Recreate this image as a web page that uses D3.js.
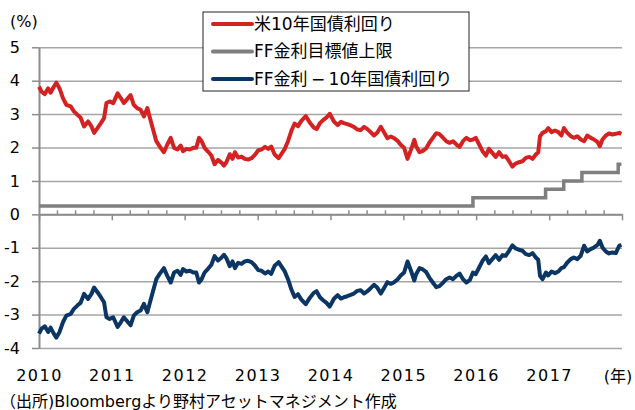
<!DOCTYPE html>
<html>
<head>
<meta charset="utf-8">
<script src="https://cdn.jsdelivr.net/npm/d3@7"></script>
<style>
  body { margin: 0; background: #fff; }
  svg text { font-family: "DejaVu Sans", "Noto Sans CJK JP", sans-serif; fill: #000; }
</style>
</head>
<body>
<div id="chart"></div>
<script>
// observation dates (roughly twice a month)
const dates = [
  "2010-01-01","2010-01-14","2010-01-30","2010-02-16","2010-02-28","2010-03-16","2010-03-29","2010-04-14","2010-05-01","2010-05-18","2010-06-09","2010-06-25",
  "2010-07-12","2010-07-28","2010-08-15","2010-09-04","2010-09-21","2010-10-04","2010-10-21","2010-11-07","2010-11-23","2010-12-05","2010-12-21",
  "2011-01-08","2011-01-30","2011-02-15","2011-03-02","2011-03-19","2011-04-05","2011-04-21","2011-05-08","2011-05-25","2011-06-11","2011-06-28",
  "2011-07-09","2011-07-25","2011-08-12","2011-08-28","2011-09-19","2011-10-06","2011-10-23","2011-11-09","2011-11-26","2011-12-12","2011-12-24",
  "2012-01-10","2012-01-27","2012-02-13","2012-02-28","2012-03-13","2012-03-26","2012-04-10","2012-04-27","2012-05-14","2012-05-30","2012-06-16",
  "2012-07-03","2012-07-16","2012-07-28","2012-08-14","2012-08-28","2012-09-09","2012-09-25","2012-10-12","2012-10-28","2012-11-14","2012-12-01","2012-12-18",
  "2013-01-04","2013-01-21","2013-02-07","2013-02-23","2013-03-10","2013-03-27","2013-04-16","2013-04-29","2013-05-16","2013-06-02","2013-06-19",
  "2013-07-05","2013-07-22","2013-08-08","2013-08-30","2013-09-19","2013-10-09","2013-10-23","2013-11-09","2013-11-25","2013-12-12","2013-12-28",
  "2014-01-19","2014-02-06","2014-02-22","2014-03-09","2014-03-26","2014-04-12","2014-04-28","2014-05-15","2014-06-01","2014-06-18",
  "2014-07-05","2014-07-21","2014-08-07","2014-08-24","2014-09-10","2014-09-27","2014-10-13","2014-10-30","2014-11-16","2014-12-03","2014-12-19",
  "2015-01-05","2015-01-22","2015-02-08","2015-02-25","2015-03-06","2015-03-23","2015-04-09","2015-04-26","2015-05-12","2015-05-29","2015-06-15",
  "2015-07-01","2015-07-18","2015-08-04","2015-08-21","2015-09-07","2015-09-24","2015-10-10","2015-10-27","2015-11-13","2015-11-30","2015-12-16","2015-12-30",
  "2016-01-16","2016-02-02","2016-02-19","2016-03-05","2016-03-22","2016-04-08","2016-04-25","2016-05-12","2016-05-28","2016-06-14",
  "2016-07-01","2016-07-17","2016-08-03","2016-08-20","2016-09-06","2016-09-23","2016-10-10","2016-10-26","2016-11-07","2016-11-16","2016-11-29","2016-12-16","2016-12-27",
  "2017-01-13","2017-01-30","2017-02-16","2017-03-03","2017-03-16","2017-04-02","2017-04-19","2017-05-05","2017-05-22","2017-06-08","2017-06-25",
  "2017-07-11","2017-07-28","2017-08-14","2017-09-01","2017-09-12","2017-09-25","2017-10-12","2017-10-28","2017-11-14","2017-12-01","2017-12-18","2017-12-29"
];

// 米10年国債利回り (%)
const us10y = [
  3.82,3.67,3.60,3.77,3.64,3.82,3.94,3.77,3.48,3.28,3.23,3.08,
  2.98,2.90,2.63,2.78,2.63,2.44,2.58,2.73,2.88,3.33,3.38,
  3.33,3.62,3.48,3.33,3.45,3.57,3.28,3.18,3.13,2.93,3.18,
  2.93,2.58,2.19,2.04,1.86,2.09,2.29,1.99,1.94,2.06,1.89,
  1.96,1.94,1.99,1.99,2.29,2.19,1.99,1.88,1.76,1.50,1.63,
  1.55,1.46,1.56,1.80,1.66,1.86,1.70,1.73,1.66,1.64,1.68,1.78,
  1.92,1.94,2.02,1.96,2.03,1.79,1.68,1.80,1.95,2.19,2.50,
  2.72,2.64,2.80,2.94,2.75,2.60,2.55,2.73,2.82,2.90,3.01,
  2.77,2.67,2.77,2.73,2.70,2.66,2.62,2.54,2.52,2.62,
  2.55,2.46,2.36,2.45,2.62,2.45,2.28,2.33,2.28,2.20,2.08,
  1.99,1.66,1.93,2.23,2.04,1.86,1.90,1.98,2.15,2.29,2.43,
  2.40,2.30,2.19,2.14,2.19,2.09,2.02,2.19,2.29,2.22,2.24,2.29,
  2.09,1.89,1.76,1.96,1.84,1.72,1.86,1.72,1.74,1.59,
  1.43,1.52,1.56,1.59,1.69,1.72,1.66,1.79,1.86,2.34,2.44,2.49,2.58,
  2.46,2.51,2.46,2.36,2.58,2.44,2.34,2.29,2.34,2.24,2.19,
  2.36,2.29,2.24,2.16,2.04,2.24,2.36,2.42,2.39,2.41,2.44,2.41
];

// FF金利－10年国債利回り (%)
const spread = [
  -3.57,-3.42,-3.35,-3.52,-3.39,-3.57,-3.69,-3.52,-3.23,-3.03,-2.98,-2.83,
  -2.73,-2.65,-2.38,-2.53,-2.38,-2.19,-2.33,-2.48,-2.63,-3.08,-3.13,
  -3.08,-3.37,-3.23,-3.08,-3.20,-3.32,-3.03,-2.93,-2.88,-2.68,-2.93,
  -2.68,-2.33,-1.94,-1.79,-1.61,-1.84,-2.04,-1.74,-1.69,-1.81,-1.64,
  -1.71,-1.69,-1.74,-1.74,-2.04,-1.94,-1.74,-1.63,-1.51,-1.25,-1.38,
  -1.30,-1.21,-1.31,-1.55,-1.41,-1.61,-1.45,-1.48,-1.41,-1.39,-1.43,-1.53,
  -1.67,-1.69,-1.77,-1.71,-1.78,-1.54,-1.43,-1.55,-1.70,-1.94,-2.25,
  -2.47,-2.39,-2.55,-2.69,-2.50,-2.35,-2.30,-2.48,-2.57,-2.65,-2.76,
  -2.52,-2.42,-2.52,-2.48,-2.45,-2.41,-2.37,-2.29,-2.27,-2.37,
  -2.30,-2.21,-2.11,-2.20,-2.37,-2.20,-2.03,-2.08,-2.03,-1.95,-1.83,
  -1.74,-1.41,-1.68,-1.98,-1.79,-1.61,-1.65,-1.73,-1.90,-2.04,-2.18,
  -2.15,-2.05,-1.94,-1.89,-1.94,-1.84,-1.77,-1.94,-2.04,-1.97,-1.74,-1.79,
  -1.59,-1.39,-1.26,-1.46,-1.34,-1.22,-1.36,-1.22,-1.24,-1.09,
  -0.93,-1.02,-1.06,-1.09,-1.19,-1.22,-1.16,-1.29,-1.36,-1.84,-1.94,-1.74,-1.83,
  -1.71,-1.76,-1.71,-1.61,-1.58,-1.44,-1.34,-1.29,-1.34,-1.24,-0.94,
  -1.11,-1.04,-0.99,-0.91,-0.79,-0.99,-1.11,-1.17,-1.14,-1.16,-0.94,-0.91
];

// FF金利目標値上限 (%) - step changes
const ffDates = ["2010-01-01","2015-12-16","2016-12-14","2017-03-15","2017-06-14","2017-12-13","2017-12-29"];
const ffUpper = [0.25, 0.50, 0.75, 1.00, 1.25, 1.50, 1.50];

const yTicks = [-4, -3, -2, -1, 0, 1, 2, 3, 4, 5];
const yearLabels = ["2010","2011","2012","2013","2014","2015","2016","2017"];
const legendLabels = ["米10年国債利回り", "FF金利目標値上限", "FF金利\u2009−\u200910年国債利回り"];
const colors = ["#d42222", "#7f7f7f", "#0b3563"];

const W = 635, H = 410;
const margin = { top: 47.3, right: 13, bottom: 62, left: 39 };
const width = W - margin.left - margin.right;
const height = H - margin.top - margin.bottom;

const parse = d3.timeParse("%Y-%m-%d");
const t = dates.map(parse);

const svg = d3.select("#chart").append("svg")
  .attr("width", W)
  .attr("height", H);

const g = svg.append("g")
  .attr("transform", `translate(${margin.left},${margin.top})`);

const x = d3.scaleTime()
  .domain([new Date(2010, 0, 1), new Date(2018, 0, 1)])
  .range([0, width]);
const y = d3.scaleLinear()
  .domain([-4, 5])
  .range([height, 0]);

// gridlines
g.append("g")
  .attr("class", "grid")
  .call(d3.axisLeft(y).tickValues(yTicks).tickSize(-width).tickFormat(""))
  .call(s => s.select(".domain").remove())
  .call(s => s.selectAll("line").attr("stroke", "#a6a6a6").attr("stroke-width", 1.5));

// y axis
g.append("g")
  .attr("class", "axis axis-y")
  .call(d3.axisLeft(y).tickValues(yTicks).tickSize(7).tickSizeOuter(0).tickPadding(12).tickFormat(d => String(d)))
  .call(s => s.select(".domain").attr("stroke", "#8c8c8c").attr("stroke-width", 2))
  .call(s => s.selectAll(".tick line").attr("stroke", "#8c8c8c").attr("stroke-width", 1.5))
  .call(s => s.selectAll("text").style("font-size", "16px").attr("fill", "#000"));

// x axis at zero: year ticks down, quarter ticks up
const zero = g.append("g")
  .attr("class", "axis axis-x")
  .attr("transform", `translate(0,${y(0)})`);
zero.call(d3.axisBottom(x).ticks(d3.timeYear.every(1)).tickSize(6).tickSizeOuter(0).tickFormat(""))
  .call(s => s.select(".domain").attr("stroke", "#8c8c8c").attr("stroke-width", 2))
  .call(s => s.selectAll(".tick line").attr("stroke", "#8c8c8c").attr("stroke-width", 1.5));
const quarters = d3.timeMonth.every(3).range(new Date(2010, 0, 1), new Date(2018, 0, 1))
  .filter(d => d.getMonth() !== 0);
zero.append("g")
  .call(d3.axisBottom(x).tickValues(quarters).tickSize(-4).tickFormat(""))
  .call(s => s.select(".domain").remove())
  .call(s => s.selectAll(".tick line").attr("stroke", "#8c8c8c").attr("stroke-width", 1.5));

// year labels below the plot
const years = yearLabels.map(d => new Date(+d, 0, 1));
g.append("g")
  .attr("class", "axis axis-years")
  .attr("transform", `translate(0,${height})`)
  .call(d3.axisBottom(x).tickValues(years).tickSize(0).tickPadding(22).tickFormat(d3.timeFormat("%Y")))
  .call(s => s.select(".domain").remove())
  .call(s => s.selectAll("text").style("font-size", "16px").style("letter-spacing", "1.5px").attr("fill", "#000"));

g.append("text")
  .attr("x", x(new Date(2018, 0, 1)) - 4)
  .attr("y", height + 33.7)
  .attr("text-anchor", "middle")
  .style("font-size", "16px")
  .text("(年)");

svg.append("text")
  .attr("x", 10)
  .attr("y", 27)
  .style("font-size", "16px")
  .text("(%)");

// lines
const line = d3.line()
  .x(d => x(d[0]))
  .y(d => y(d[1]))
  .curve(d3.curveLinear);

const ffLine = d3.line()
  .x(d => x(d[0]))
  .y(d => y(d[1]))
  .curve(d3.curveStepAfter);

g.append("path")
  .datum(ffDates.map((d, i) => [parse(d), ffUpper[i]]))
  .attr("fill", "none")
  .attr("stroke", colors[1])
  .attr("stroke-width", 3.5)
  .attr("d", ffLine);

g.append("path")
  .datum(t.map((d, i) => [d, us10y[i]]))
  .attr("fill", "none")
  .attr("stroke", colors[0])
  .attr("stroke-width", 4)
  .attr("stroke-linejoin", "round")
  .attr("d", line);

g.append("path")
  .datum(t.map((d, i) => [d, spread[i]]))
  .attr("fill", "none")
  .attr("stroke", colors[2])
  .attr("stroke-width", 4)
  .attr("stroke-linejoin", "round")
  .attr("d", line);

// legend
const legend = svg.append("g")
  .attr("class", "legend")
  .attr("transform", "translate(203,12)");
legend.append("rect")
  .attr("width", 266)
  .attr("height", 79)
  .attr("fill", "#fff")
  .attr("stroke", "#222")
  .attr("stroke-width", 1);
const item = legend.selectAll(".item")
  .data(legendLabels)
  .enter().append("g")
  .attr("class", "item")
  .attr("transform", (d, i) => `translate(0,${12 + i * 27.5})`);
item.append("line")
  .attr("x1", 10).attr("x2", 49)
  .attr("stroke", (d, i) => colors[i])
  .attr("stroke-width", 4)
  .attr("stroke-linecap", "round");
item.append("text")
  .attr("x", 51)
  .attr("dy", "0.35em")
  .style("font-size", "17px")
  .text(d => d);

// source
svg.append("text")
  .attr("x", 0)
  .attr("y", 407)
  .style("font-size", "16px")
  .attr("fill", "#595959")
  .text("（出所)Bloombergより野村アセットマネジメント作成");
</script>
</body>
</html>
